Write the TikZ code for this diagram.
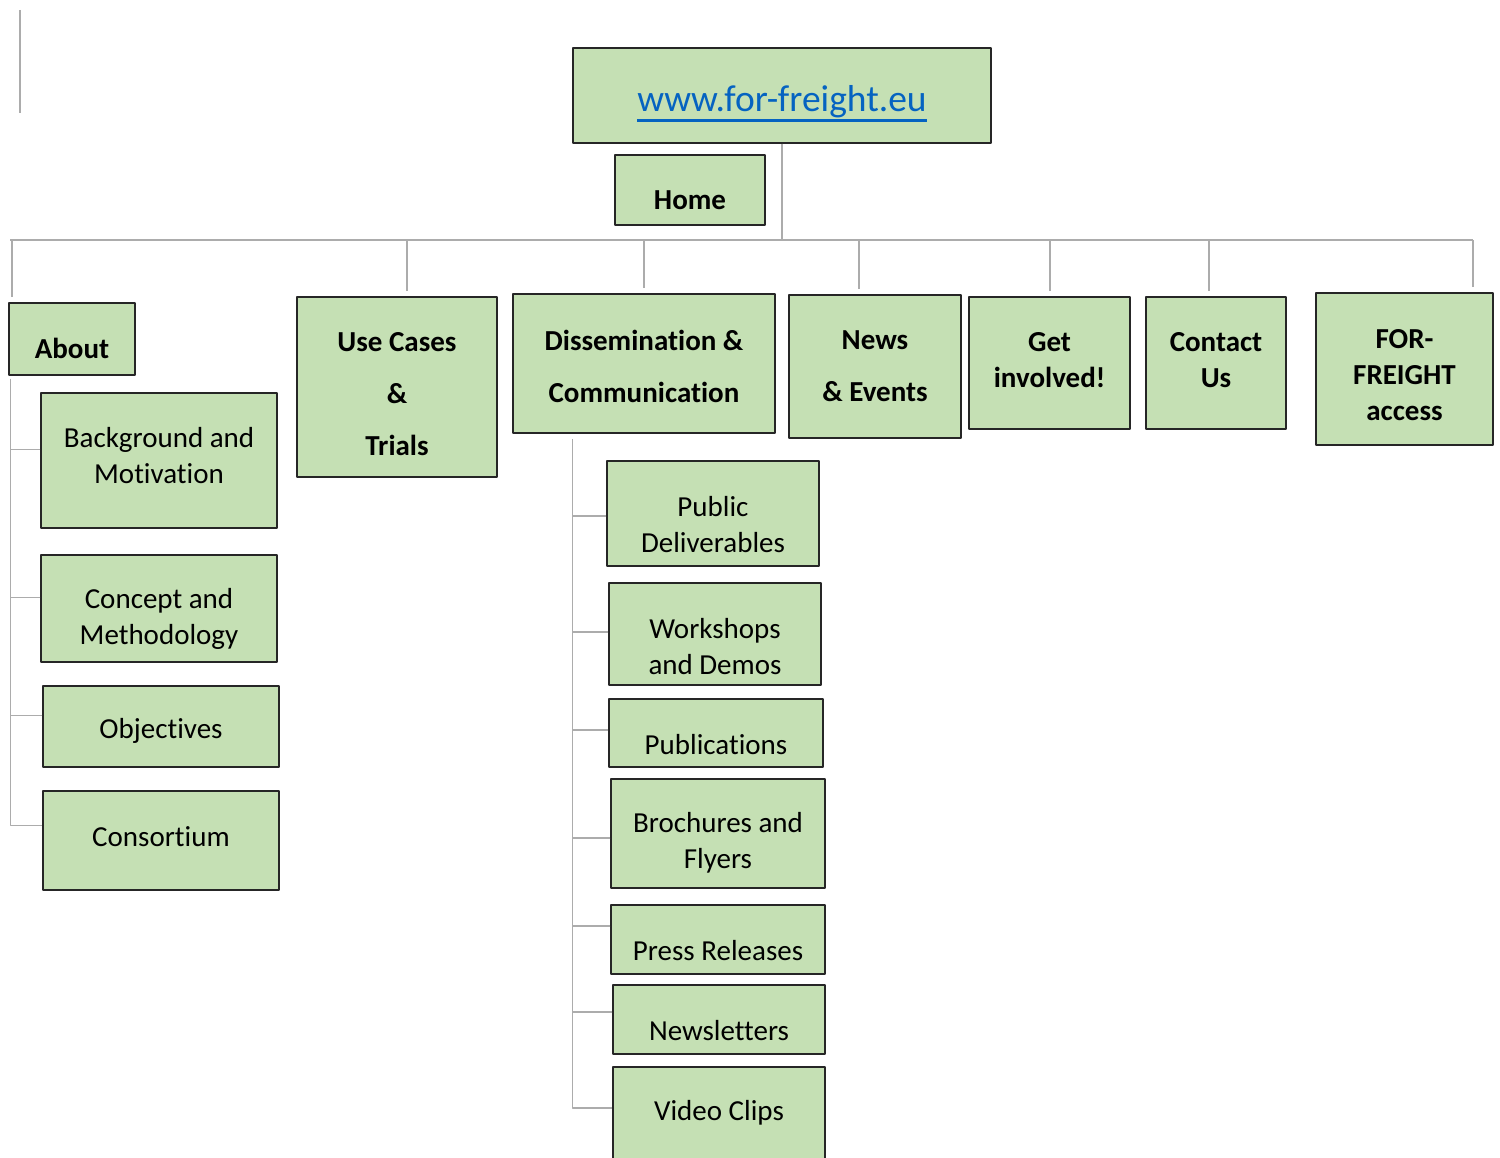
\documentclass[tikz,border=0pt]{standalone}
\usepackage{fontspec}
\setmainfont{Carlito}[Ligatures=NoCommon]
\definecolor{boxgreen}{HTML}{C5E0B4}
\definecolor{linkblue}{HTML}{0563C1}
\begin{document}
\begin{tikzpicture}[x=1pt, y=-1pt, line join=round,
    page/.style={draw=black!85, line width=1.5pt, fill=boxgreen, inner sep=0pt},
    link/.style={draw=gray!65, line width=1.5pt},
    lbl/.style={align=center, inner sep=0pt, font=\fontsize{29}{36}\selectfont},
    hdr/.style={align=center, inner sep=0pt, font=\fontsize{29}{36}\selectfont\bfseries}]
    \useasboundingbox (0,0) rectangle (1500,1158);
    \clip (0,0) rectangle (1500,1158);
    % boxes
    \node[page, minimum width=418pt, minimum height=95pt] (url) at (782,95.5) {};
    \node[page, minimum width=150pt, minimum height=70pt] (home) at (690,190) {};
    \node[page, minimum width=126pt, minimum height=72pt] (about) at (72,339) {};
    \node[page, minimum width=200pt, minimum height=180pt] (usecases) at (397,387) {};
    \node[page, minimum width=262pt, minimum height=139pt] (dissem) at (644,363.5) {};
    \node[page, minimum width=172pt, minimum height=143pt] (news) at (875,366.5) {};
    \node[page, minimum width=161pt, minimum height=132pt] (involved) at (1049.5,363) {};
    \node[page, minimum width=140pt, minimum height=132pt] (contact) at (1216,363) {};
    \node[page, minimum width=177pt, minimum height=152pt] (access) at (1404.5,369) {};
    \node[page, minimum width=236pt, minimum height=135pt] (bg) at (159,460.5) {};
    \node[page, minimum width=236pt, minimum height=107pt] (concept) at (159,608.5) {};
    \node[page, minimum width=236pt, minimum height=81pt] (objectives) at (161,726.5) {};
    \node[page, minimum width=236pt, minimum height=99pt] (consortium) at (161,840.5) {};
    \node[page, minimum width=212pt, minimum height=105pt] (pubdel) at (713,513.5) {};
    \node[page, minimum width=212pt, minimum height=102pt] (workshops) at (715,634) {};
    \node[page, minimum width=214pt, minimum height=68pt] (publications) at (716,733) {};
    \node[page, minimum width=214pt, minimum height=109pt] (brochures) at (718,833.5) {};
    \node[page, minimum width=214pt, minimum height=69pt] (press) at (718,939.5) {};
    \node[page, minimum width=212pt, minimum height=69pt] (newsletters) at (719,1019.5) {};
    \node[page, minimum width=212pt, minimum height=108pt] (video) at (719,1121) {};
    % texts
    \node[lbl, font=\fontsize{37.5}{44}\selectfont, text=linkblue] (url-t) at (782,102) {www.for-freight.eu};
    \draw[linkblue, line width=2.5pt] ([yshift=-2pt]url-t.south west) -- ([yshift=-2pt]url-t.south east);
    \node[hdr] (home-t) at (690,200) {Home};
    \node[hdr] (about-t) at (72,348) {About};
    \node[hdr] (usecases-t) at (397,394) {Use Cases\\[16pt]\&\\[16pt]Trials};
    \node[hdr] (dissem-t) at (644,366) {Dissemination \&\\[16pt]Communication};
    \node[hdr] (news-t) at (875,366) {News\\[16pt]\& Events};
    \node[hdr] (involved-t) at (1049.5,360) {Get\\involved!};
    \node[hdr] (contact-t) at (1216,360) {Contact\\Us};
    \node[hdr] (access-t) at (1404.5,375) {FOR-\\FREIGHT\\access};
    \node[lbl] (bg-t) at (159,456) {Background and\\Motivation};
    \node[lbl] (concept-t) at (159,619) {Concept and\\Methodology};
    \node[lbl] (objectives-t) at (161,731) {Objectives};
    \node[lbl] (consortium-t) at (161,837) {Consortium};
    \node[lbl] (pubdel-t) at (713,525) {Public\\Deliverables};
    \node[lbl] (workshops-t) at (715,647) {Workshops\\and Demos};
    \node[lbl] (publications-t) at (716,745) {Publications};
    \node[lbl] (brochures-t) at (718,843) {Brochures and\\Flyers};
    \node[lbl] (press-t) at (718,951) {Press Releases};
    \node[lbl] (newsletters-t) at (719,1031) {Newsletters};
    \node[lbl] (video-t) at (719,1113) {Video Clips};
    % connectors
    \coordinate (barL) at (10,240);
    \coordinate (barR) at (1473,240);
    \coordinate (mark1) at (20,10);
    \coordinate (mark2) at (20,113);
    \draw[link] (mark1) -- (mark2);
    \draw[link] (url.south) -- (url.south |- barL);
    \draw[link] (barL) -- (barR);
    \foreach \n/\dx in {about/-60, usecases/10, dissem/0, news/-16, involved/0.5, contact/-7, access/68.5}
    \draw[link] ([xshift=\dx pt, yshift=5pt]\n.north) -- ([xshift=\dx pt]\n.north |- barL);
    \coordinate (aspine) at ([xshift=2pt, yshift=-3pt]about.south west);
    \foreach \n/\dy in {bg/11, concept/11, objectives/11}
    \draw[link] ([yshift=\dy pt]\n.west) coordinate (t) -- (t -| aspine);
    \draw[link] (aspine) |- ([yshift=15pt]consortium.west);
    \coordinate (dspine) at ([xshift=60pt, yshift=-5pt]dissem.south west);
    \foreach \n/\dy in {pubdel/-2.5, workshops/2, publications/3, brochures/-4.5, press/13.5, newsletters/7.5}
    \draw[link] ([yshift=\dy pt]\n.west) coordinate (t) -- (t -| dspine);
    \draw[link] (dspine) |- ([yshift=13pt]video.west);
\end{tikzpicture}
\end{document}
